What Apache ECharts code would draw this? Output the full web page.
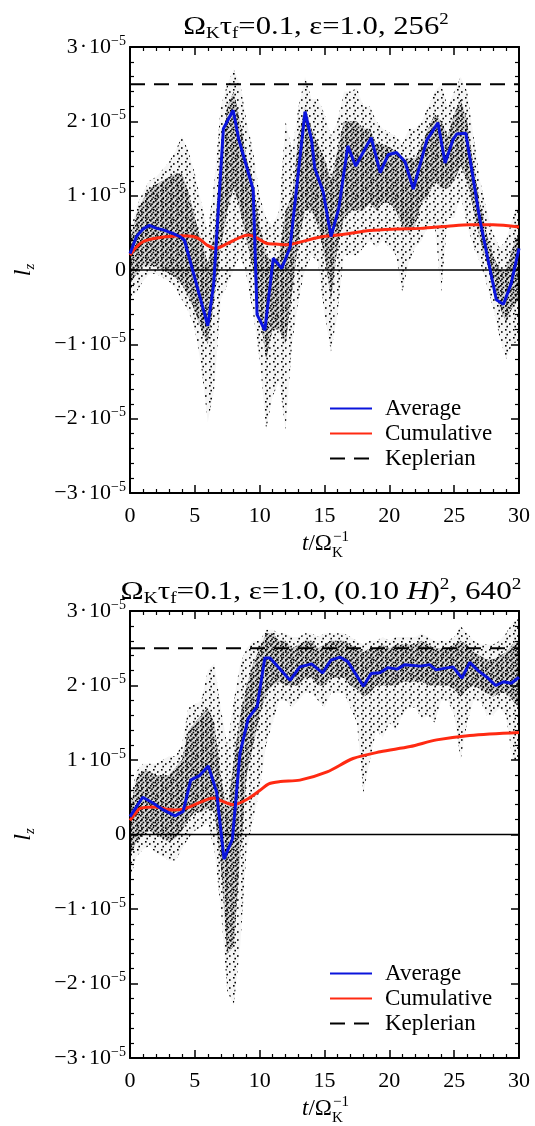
<!DOCTYPE html>
<html><head><meta charset="utf-8">
<script src="https://cdn.jsdelivr.net/npm/echarts@6/dist/echarts.min.js"></script>
<style>html,body{margin:0;padding:0;background:#fff}#c{width:535px;height:1126px}</style>
</head><body><div id="c"></div>
<script>
// ---------- DATA (values in units of 1e-5) ----------
const xTicks = [0, 5, 10, 15, 20, 25, 30];
const yTicks = [-3, -2, -1, 0, 1, 2, 3];
const keplerian = 2.5;
const timeRange = [0, 30];

// Particle cloud envelopes, sampled every 0.5 in t
const cloudT = [0,0.5,1,1.5,2, 2.5,3,3.5,4,4.5, 5,5.5,6,6.5,7, 7.5,8,8.5,9,9.5,
  10,10.5,11,11.5,12, 12.5,13,13.5,14,14.5, 15,15.5,16,16.5,17, 17.5,18,18.5,19,19.5,
  20,20.5,21,21.5,22, 22.5,23,23.5,24,24.5, 25,25.5,26,26.5,27, 27.5,28,28.5,29,29.5, 30];

// Panel 1 (256^2)
const p1OuterLo = [-0.40,-0.30,-0.15,-0.05,-0.05, -0.10,-0.15,-0.25,-0.40,-0.55, -0.80,-1.30,-2.05,-1.60,-0.40, -0.20,0.00,0.20,-0.10,-0.60,
  -1.20,-2.15,-1.70,-1.50,-2.15, -1.00,-0.40,0.00,0.20,0.10, -0.60,-1.10,-0.60,0.20,0.20, 0.20,0.30,0.40,0.30,0.40,
  0.30,0.20,-0.30,0.10,0.30, 0.40,0.60,0.60,-0.30,0.70, 0.70,1.00,0.60,0.30,0.10, -0.20,-0.50,-0.90,-1.20,-1.00, -0.95];
const p1OuterHi = [0.50,0.85,1.05,1.20,1.25, 1.35,1.45,1.60,1.80,1.60, 1.30,0.90,0.50,1.20,2.20, 2.50,2.70,2.50,2.00,1.60,
  1.00,0.70,0.60,0.80,2.00, 1.60,2.20,2.60,2.30,2.30, 2.10,1.80,2.00,2.40,2.40, 2.45,2.20,2.20,2.00,1.90,
  1.85,1.80,1.70,1.90,1.90, 2.00,2.20,2.40,2.50,2.20, 2.40,2.60,2.40,1.80,1.20, 0.80,0.50,0.30,0.40,0.70, 0.90];
const p1CoreLo = [-0.20,-0.05,0.05,0.05,0.05, 0.00,-0.05,-0.10,-0.20,-0.35, -0.55,-0.80,-1.00,-0.40,0.30, 0.80,1.10,0.80,0.40,0.00,
  -0.60,-1.20,-0.80,-0.80,-1.00, -0.30,0.40,0.80,0.80,0.60, 0.20,-0.40,0.30,0.70,0.80, 0.80,0.80,0.90,0.80,0.90,
  0.90,0.80,0.60,0.50,0.60, 0.90,1.00,1.20,1.10,1.10, 1.20,1.40,1.20,0.80,0.40, 0.10,-0.20,-0.50,-0.70,-0.50, -0.40];
const p1CoreHi = [0.40,0.75,0.95,1.10,1.15, 1.20,1.25,1.30,1.30,1.05, 0.70,0.40,0.10,0.50,1.50, 2.20,2.40,2.00,1.50,1.20,
  0.60,0.20,0.10,0.20,0.80, 1.00,1.80,2.20,1.90,1.70, 1.50,1.20,1.60,2.00,2.00, 2.00,1.90,1.90,1.70,1.70,
  1.65,1.60,1.50,1.50,1.50, 1.70,1.90,2.10,2.00,1.80, 2.10,2.30,2.00,1.40,0.90, 0.50,0.20,0.00,0.00,0.30, 0.50];

const p1AvgT = [0,0.5,1.0,1.5,2.06,2.57,3.2,3.86,4.2,6.0,6.45,7.2,7.95,8.4,9.5,9.8,10.4,11.05,11.7,12.35,13.5,14.0,14.25,14.9,15.5,16.1,16.8,17.4,18.6,19.3,19.9,20.55,21.2,21.85,22.9,23.75,24.3,24.9,25.2,25.9,27.0,28.25,28.8,29.4,30];
const p1AvgV = [0.22,0.45,0.55,0.60,0.56,0.54,0.50,0.45,0.40,-0.75,-0.20,1.90,2.15,1.75,1.08,-0.60,-0.81,0.16,0.02,0.31,2.13,1.75,1.37,1.05,0.45,0.83,1.67,1.40,1.78,1.31,1.55,1.58,1.46,1.09,1.75,1.98,1.44,1.75,1.83,1.84,0.66,-0.40,-0.46,-0.18,0.29];
const p1CumT = [0,0.5,1.0,1.5,2.1,3.0,3.9,4.9,5.5,5.9,6.55,7.45,8.5,9.15,9.8,10.5,11.2,12.1,13.0,14.6,16.5,18.5,20.5,22.4,24.5,26.2,28.0,30];
const p1CumV = [0.20,0.31,0.38,0.41,0.43,0.45,0.46,0.45,0.40,0.34,0.29,0.35,0.44,0.47,0.43,0.36,0.35,0.34,0.37,0.44,0.48,0.53,0.55,0.56,0.59,0.61,0.61,0.58];

// Panel 2 ((0.10 H)^2, 640^2)
const p2OuterLo = [-0.60,-0.30,-0.20,-0.15,-0.25, -0.30,-0.35,-0.35,-0.20,-0.05, 0.05,0.10,0.15,-0.20,-1.00, -2.10,-2.30,-1.50,-0.20,0.20,
  0.60,1.20,1.50,1.80,1.80, 1.70,1.80,1.90,1.90,1.80, 1.70,1.90,1.90,1.90,1.70, 1.50,0.55,1.00,1.40,1.30,
  1.50,1.40,1.60,1.70,1.70, 1.55,1.60,1.50,1.80,1.80, 1.60,1.00,1.50,1.80,1.80, 1.60,1.60,1.70,1.60,1.00, 1.00];
const p2OuterHi = [0.50,0.85,0.95,0.95,0.95, 1.00,1.05,1.05,1.20,1.70, 1.75,1.80,2.20,2.30,1.70, 1.20,1.80,2.30,2.50,2.60,
  2.60,2.75,2.75,2.70,2.70, 2.65,2.65,2.70,2.70,2.65, 2.70,2.70,2.70,2.70,2.65, 2.60,2.55,2.60,2.60,2.65,
  2.60,2.65,2.65,2.65,2.65, 2.70,2.65,2.60,2.60,2.60, 2.65,2.80,2.70,2.60,2.55, 2.55,2.55,2.60,2.70,2.85, 2.90];
const p2CoreLo = [-0.30,-0.10,0.00,0.05,0.00, -0.05,-0.10,-0.05,0.05,0.20, 0.30,0.30,0.35,0.30,-0.40, -1.60,-1.50,-0.30,0.80,1.20,
  1.60,1.90,2.00,2.05,2.00, 2.00,2.00,2.10,2.10,2.00, 2.00,2.10,2.10,2.10,2.00, 1.95,1.85,1.90,2.00,2.00,
  2.00,2.00,2.05,2.05,2.05, 2.05,2.00,2.00,2.00,2.00, 1.95,1.85,1.95,2.00,1.95, 1.90,1.85,1.90,1.90,1.80, 1.70];
const p2CoreHi = [0.35,0.75,0.85,0.85,0.80, 0.80,0.80,0.90,1.00,1.40, 1.50,1.60,1.70,1.50,0.80, 0.30,1.00,1.60,2.00,2.30,
  2.50,2.70,2.70,2.60,2.60, 2.50,2.55,2.60,2.60,2.50, 2.55,2.60,2.60,2.60,2.55, 2.50,2.45,2.50,2.50,2.55,
  2.50,2.55,2.55,2.55,2.55, 2.60,2.55,2.50,2.50,2.50, 2.55,2.60,2.55,2.45,2.40, 2.35,2.35,2.40,2.45,2.55, 2.60];

const p2AvgT = [0,0.98,1.8,2.57,3.47,4.1,4.68,5.35,6.04,6.68,7.25,7.9,8.48,9.12,9.81,10.4,10.8,12.34,13.1,14.0,14.85,15.5,16.2,16.8,18.0,18.6,19.27,19.9,20.6,21.2,22.4,23.1,23.6,24.9,25.6,26.2,26.85,27.6,28.2,28.8,29.4,30];
const p2AvgV = [0.24,0.50,0.42,0.33,0.25,0.31,0.73,0.79,0.92,0.57,-0.33,-0.06,1.09,1.56,1.72,2.37,2.37,2.07,2.25,2.29,2.17,2.34,2.38,2.32,1.99,2.16,2.17,2.24,2.22,2.28,2.26,2.28,2.21,2.25,2.10,2.31,2.20,2.10,2.00,2.05,2.03,2.11];
const p2CumT = [0,0.4,0.77,1.8,3.34,4.1,5.4,6.42,6.8,7.5,7.97,9.0,10.0,10.7,11.6,13.1,15.2,17.2,19.3,21.6,23.65,26.2,30];
const p2CumV = [0.19,0.28,0.35,0.37,0.33,0.34,0.43,0.49,0.47,0.42,0.40,0.47,0.59,0.68,0.71,0.73,0.84,1.02,1.11,1.18,1.27,1.33,1.37];

// ---------- STYLE ----------
const FONT = 'Liberation Serif';
const BLUE = '#0a14dc', RED = '#ff2a12';

// dotted texture tiles for the particle cloud (texture only, not data)
function dotTile(size, spots, bg) {
  const c = document.createElement('canvas');
  c.width = size; c.height = size;
  const g = c.getContext('2d');
  if (bg) { g.fillStyle = bg; g.fillRect(0, 0, size, size); }
  g.fillStyle = '#000';
  spots.forEach(p => g.fillRect(p[0], p[1], 1.6, 1.6));
  return { type: 'pattern', image: c, repeat: 'repeat' };
}
const haloFill = dotTile(8, [[1, 1], [5, 3.2], [2.4, 5.8]], 'rgba(0,0,0,0.04)');
const coreFill = dotTile(5, [[0, 0], [2.6, 1.7], [1.2, 3.4]], 'rgba(0,0,0,0.12)');

function pairs(ts, vs) { return ts.map((t, i) => [t, vs[i]]); }

function band(xi, yi, lo, hi, fill) {
  return {
    type: 'custom', xAxisIndex: xi, yAxisIndex: yi, silent: true, z: 1, clip: true,
    data: [[cloudT[0], lo[0]]],
    renderItem: function (params, api) {
      const pts = [];
      for (let i = 0; i < cloudT.length; i++) pts.push(api.coord([cloudT[i], hi[i]]));
      for (let i = cloudT.length - 1; i >= 0; i--) pts.push(api.coord([cloudT[i], lo[i]]));
      return { type: 'polygon', shape: { points: pts }, style: { fill: fill, stroke: null } };
    }
  };
}

function panelSeries(xi, yi, oLo, oHi, cLo, cHi, aT, aV, cT, cV) {
  return [
    band(xi, yi, oLo, oHi, haloFill),
    band(xi, yi, cLo, cHi, coreFill),
    { type: 'line', xAxisIndex: xi, yAxisIndex: yi, data: pairs(timeRange, [0, 0]), symbol: 'none',
      lineStyle: { color: '#000', width: 1.4 }, silent: true, z: 2 },
    { name: 'Keplerian', type: 'line', xAxisIndex: xi, yAxisIndex: yi, data: pairs(timeRange, [keplerian, keplerian]), symbol: 'none',
      color: '#000', lineStyle: { color: '#000', width: 2, type: [15, 9] }, silent: true, z: 3 },
    { name: 'Cumulative', type: 'line', xAxisIndex: xi, yAxisIndex: yi, data: pairs(cT, cV), symbol: 'none', smooth: 0.3,
      color: RED, lineStyle: { color: RED, width: 3 }, silent: true, z: 4 },
    { name: 'Average', type: 'line', xAxisIndex: xi, yAxisIndex: yi, data: pairs(aT, aV), symbol: 'none',
      color: BLUE, lineStyle: { color: BLUE, width: 3 }, silent: true, z: 5 }
  ];
}

const yRich = {
  n: { fontSize: 22, fontFamily: FONT, color: '#000', lineHeight: 26 },
  d: { fontSize: 22, fontFamily: FONT, color: '#000', lineHeight: 26, padding: [0, 2, 0, 2] },
  s: { fontSize: 14, fontFamily: FONT, color: '#000', lineHeight: 14, verticalAlign: 'top' }
};
function yLabel(v) {
  const n = Math.round(v);
  if (n === 0) return '{n|0}';
  return '{n|' + (n < 0 ? '\u2212' : '') + Math.abs(n) + '}{d|\u00b7}{n|10}{s|\u22125}';
}
const tickStyle = { inside: true, length: 8, lineStyle: { color: '#000', width: 1.5 } };
const minorStyle = { show: true, splitNumber: 5, length: 4, lineStyle: { color: '#000', width: 1.2 } };
const lineAx = { show: true, onZero: false, lineStyle: { color: '#000', width: 2 } };

function xAxes(gi) {
  const base = { type: 'value', gridIndex: gi, min: xTicks[0], max: xTicks[xTicks.length - 1], interval: xTicks[1] - xTicks[0],
    axisLine: lineAx, axisTick: tickStyle, minorTick: minorStyle, splitLine: { show: false }, minorSplitLine: { show: false } };
  return [
    Object.assign({}, base, { position: 'bottom', axisLabel: { fontSize: 22, fontFamily: FONT, color: '#000', margin: 12 } }),
    Object.assign({}, base, { position: 'top', axisLabel: { show: false } })
  ];
}
function yAxes(gi) {
  const base = { type: 'value', gridIndex: gi, min: yTicks[0], max: yTicks[yTicks.length - 1], interval: yTicks[1] - yTicks[0],
    axisLine: lineAx, axisTick: tickStyle, minorTick: minorStyle, splitLine: { show: false }, minorSplitLine: { show: false } };
  return [
    Object.assign({}, base, { position: 'left', axisLabel: { formatter: yLabel, rich: yRich, margin: 4 },
      name: '{i|l}{z|z}', nameLocation: 'middle', nameRotate: 90, nameGap: 92,
      nameTextStyle: { rich: {
        i: { fontSize: 24, fontStyle: 'italic', fontFamily: FONT, color: '#000', lineHeight: 28 },
        z: { fontSize: 15, fontStyle: 'italic', fontFamily: FONT, color: '#000', lineHeight: 14, verticalAlign: 'bottom' } } } }),
    Object.assign({}, base, { position: 'right', axisLabel: { show: false } })
  ];
}

const titleRich = {
  a: { fontSize: 26, fontFamily: FONT, fill: '#000', lineHeight: 30 },
  h: { fontSize: 26, fontFamily: FONT, fontStyle: 'italic', fill: '#000', lineHeight: 30 },
  b: { fontSize: 16, fontFamily: FONT, fill: '#000', lineHeight: 16, verticalAlign: 'bottom' },
  c: { fontSize: 16, fontFamily: FONT, fill: '#000', lineHeight: 16, verticalAlign: 'top' }
};
function xName(cx, cy) {
  return [
    { type: 'text', x: cx - 22, y: cy, silent: true, style: { text: '{i|t}{a|/\u03a9}', rich: {
        i: { fontSize: 23, fontFamily: FONT, fontStyle: 'italic', fill: '#000' },
        a: { fontSize: 23, fontFamily: FONT, fill: '#000' } }, align: 'left', verticalAlign: 'middle' } },
    { type: 'text', x: cx + 8, y: cy + 9, silent: true, style: { text: 'K', fontSize: 15, fontFamily: FONT, fill: '#000', align: 'left', verticalAlign: 'middle' } },
    { type: 'text', x: cx + 9, y: cy - 7, silent: true, style: { text: '\u22121', fontSize: 15, fontFamily: FONT, fill: '#000', align: 'left', verticalAlign: 'middle' } }
  ];
}

const legendBase = {
  data: ['Average', 'Cumulative', 'Keplerian'], orient: 'vertical', left: 324,
  itemWidth: 42, itemHeight: 14, itemGap: 2, selectedMode: false,
  itemStyle: { opacity: 0 },
  textStyle: { fontSize: 23, fontFamily: FONT, color: '#000', padding: [0, 0, 0, 8] }
};

const option = {
  animation: false,
  backgroundColor: '#fff',
  grid: [
    { left: 130, top: 47, width: 389, height: 446, show: false },
    { left: 130, top: 611, width: 389, height: 447, show: false }
  ],
  xAxis: [].concat(xAxes(0), xAxes(1)),
  yAxis: [].concat(yAxes(0), yAxes(1)),
  legend: [
    Object.assign({}, legendBase, { top: 392 }),
    Object.assign({}, legendBase, { top: 957 })
  ],
  graphic: [].concat(
    [
      { type: 'text', x: 316, y: 27, scaleX: 1.18, silent: true, style: {
          text: '{a|\u03a9}{b|K}{a|\u03c4}{b|f}{a|=0.1, \u03b5=1.0, 256}{c|2}', rich: titleRich, align: 'center', verticalAlign: 'middle' } },
      { type: 'text', x: 321, y: 592, scaleX: 1.2, silent: true, style: {
          text: '{a|\u03a9}{b|K}{a|\u03c4}{b|f}{a|=0.1, \u03b5=1.0, (0.10 }{h|H}{a|)}{c|2}{a|, 640}{c|2}', rich: titleRich, align: 'center', verticalAlign: 'middle' } }
    ],
    xName(324, 544), xName(324, 1109)
  ),
  series: [].concat(
    panelSeries(0, 0, p1OuterLo, p1OuterHi, p1CoreLo, p1CoreHi, p1AvgT, p1AvgV, p1CumT, p1CumV),
    panelSeries(2, 2, p2OuterLo, p2OuterHi, p2CoreLo, p2CoreHi, p2AvgT, p2AvgV, p2CumT, p2CumV)
  )
};

const chart = echarts.init(document.getElementById('c'), null, { renderer: 'canvas' });
chart.setOption(option);
</script>
</body></html>
